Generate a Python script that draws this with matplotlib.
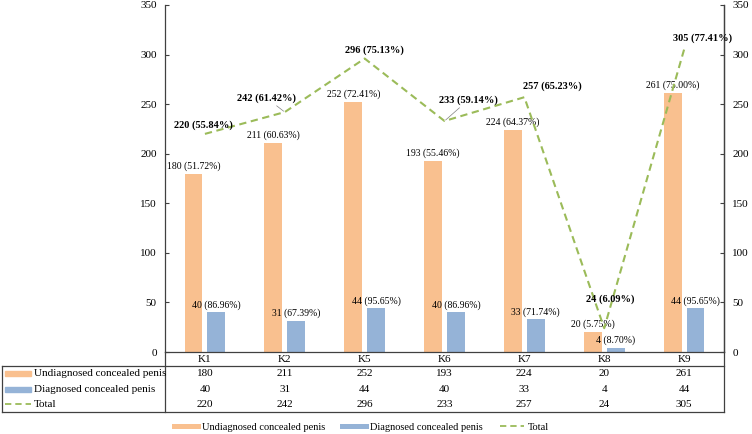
import matplotlib
matplotlib.use("Agg")
import matplotlib.pyplot as plt
from matplotlib.lines import Line2D
from matplotlib.patches import Rectangle
import numpy as np

plt.rcParams['font.family'] = ['Liberation Serif', 'DejaVu Serif']

categories = ["K1", "K2", "K5", "K6", "K7", "K8", "K9"]
undiagnosed = [180, 211, 252, 193, 224, 20, 261]
diagnosed = [40, 31, 44, 40, 33, 4, 44]
total = [220, 242, 296, 233, 257, 24, 305]
undiagnosed_pct = [51.72, 60.63, 72.41, 55.46, 64.37, 5.75, 75.00]
diagnosed_pct = [86.96, 67.39, 95.65, 86.96, 71.74, 8.70, 95.65]
total_pct = [55.84, 61.42, 75.13, 59.14, 65.23, 6.09, 77.41]
series_names = ["Undiagnosed concealed penis", "Diagnosed concealed penis", "Total"]

# label offsets for the bold total labels (points), leader lines for some
total_offsets = [(-1, 6), (-13, 10), (7, 6), (17, 15), (20, 8), (4, 21), (13, 8)]
leader = [False, True, False, True, False, False, False]

c_orange = "#F9C08F"
c_blue = "#95B3D7"
c_green = "#9BBB59"
c_line = "#404040"

fig = plt.figure(figsize=(7.52, 4.34), dpi=100)
ax = fig.add_axes([165/752, 1-352/434, 559/752, 347/434])
x = np.arange(len(categories))
w = 0.225
off = 0.143

ax.bar(x - off, undiagnosed, w, color=c_orange, zorder=2)
ax.bar(x + off, diagnosed, w, color=c_blue, zorder=2)

for i in range(len(x)):
    ax.annotate(f"{undiagnosed[i]} ({undiagnosed_pct[i]:.2f}%)", (x[i] - off, undiagnosed[i]),
                xytext=(0, 2), textcoords="offset points", ha="center", va="bottom", fontsize=7)
    ax.annotate(f"{diagnosed[i]} ({diagnosed_pct[i]:.2f}%)", (x[i] + off, diagnosed[i]),
                xytext=(0, 2), textcoords="offset points", ha="center", va="bottom", fontsize=7)

ax.set_xlim(-0.5, len(x) - 0.5)
ax.set_ylim(0, 350)
ax.set_yticks(range(0, 351, 50))
ax.set_xticks(x)
ax.set_xticklabels(categories)
ax.tick_params(axis="x", length=0, pad=2, labelsize=8)
ax.tick_params(axis="y", direction="in", length=3, pad=6, labelsize=8, color=c_line)
ax.spines["top"].set_visible(False)
for s in ["left", "right", "bottom"]:
    ax.spines[s].set_color(c_line)
    ax.spines[s].set_linewidth(0.9)

ax2 = ax.twinx()
ax2.set_ylim(0, 350)
ax2.set_yticks(range(0, 351, 50))
ax2.tick_params(axis="y", direction="in", length=3, pad=6, labelsize=8, color=c_line)
for s in ["top", "left", "bottom"]:
    ax2.spines[s].set_visible(False)
ax2.spines["right"].set_color(c_line)
ax2.spines["right"].set_linewidth(0.9)

ax2.plot(x, total, color=c_green, lw=1.5, dashes=(3.5, 2.2), zorder=3)
for i in range(len(x)):
    props = dict(arrowstyle="-", color="#7f7f7f", lw=0.5, shrinkA=0, shrinkB=1) if leader[i] else None
    ax2.annotate(f"{total[i]} ({total_pct[i]:.2f}%)", (x[i], total[i]), xytext=total_offsets[i],
                 textcoords="offset points", ha="center", va="center", fontsize=7.5,
                 fontweight="bold", arrowprops=props)

# data table under the axes
tr = ax.get_xaxis_transform()
y_top = -14/347
row_h = 46/347/3
x_left = -163/559
lines = [([x_left, 1], [y_top, y_top]),
         ([x_left, 1], [y_top - 3*row_h, y_top - 3*row_h]),
         ([x_left, x_left], [y_top, y_top - 3*row_h]),
         ([0, 0], [0, y_top - 3*row_h]),
         ([1, 1], [0, y_top - 3*row_h])]
for xs, ys in lines:
    ax.add_line(Line2D(xs, ys, transform=ax.transAxes, color=c_line, lw=0.9, clip_on=False))

rows = [undiagnosed, diagnosed, total]
for r, vals in enumerate(rows):
    yc = y_top - (r + 0.5) * row_h
    for i in range(len(x)):
        ax.text(x[i], yc, str(vals[i]), transform=tr, ha="center", va="center", fontsize=8)
    ax.text(-131/559, yc, series_names[r], transform=ax.transAxes, ha="left", va="center", fontsize=8)

sw_x0 = -160/559
sw_w = 26/559
sw_h = 5/347
for r, col in enumerate([c_orange, c_blue]):
    yc = y_top - (r + 0.5) * row_h
    ax.add_patch(Rectangle((sw_x0, yc - sw_h/2), sw_w, sw_h, transform=ax.transAxes,
                           color=col, clip_on=False))
yc = y_top - 2.5 * row_h
ax.add_line(Line2D([sw_x0, sw_x0 + sw_w], [yc, yc], transform=ax.transAxes, color=c_green,
                   lw=1.3, dashes=(3.5, 2.2), clip_on=False))

handles = [Line2D([], [], color=c_orange, lw=3.6),
           Line2D([], [], color=c_blue, lw=3.6),
           Line2D([], [], color=c_green, lw=1.3, dashes=(3.5, 2.2))]
fig.legend(handles, series_names, loc="center", bbox_to_anchor=(0.481, 0.016), ncol=3,
           frameon=False, fontsize=7.5, handlelength=2.3, handletextpad=0.4, columnspacing=1.6)

fig.savefig("out.png", dpi=100)
